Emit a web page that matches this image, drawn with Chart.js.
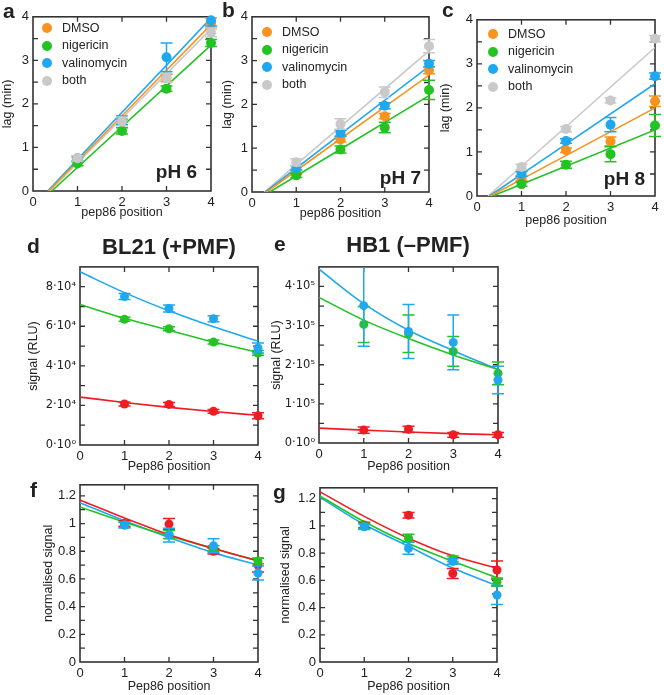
<!DOCTYPE html>
<html>
<head>
<meta charset="utf-8">
<script src="https://cdn.jsdelivr.net/npm/chart.js@4.4.1/dist/chart.umd.min.js"></script>
<style>
  body { margin: 0; background: #fff; }
  #fig { position: relative; width: 664px; height: 695px; overflow: hidden;
         font-family: 'Liberation Sans', Arial, sans-serif; color: #222; }
  #fig canvas { position: absolute; }
  .txt { position: absolute; white-space: nowrap; line-height: 1; }
  .dot { position: absolute; border-radius: 50%; }
</style>
</head>
<body>
<div id="fig"></div>
<script>
const FONT = "'Liberation Sans', Arial, sans-serif";
const SUP_FONT = "'DejaVu Sans', sans-serif";   // has every superscript digit
const INK = '#222';
const AXIS = '#333';

// x positions (pep86 position) and axis ticks
const positions = [1, 2, 3, 4];
const fitPositions = [0, 1, 2, 3, 4];
const xTickValues = [0, 1, 2, 3, 4];
const xTickLabels = ['0', '1', '2', '3', '4'];

const treatments = ['DMSO', 'nigericin', 'valinomycin', 'both'];
const treatmentColours = ['#f7931e', '#22c322', '#1fa7ef', '#c9c9c9'];
const strainColours = ['#ee1c24', '#22c322', '#1fa7ef'];

// panel a, pH 6 : lag (min)
const ph6Dmso = [0.72, 1.58, 2.6, 3.85];
const ph6Nig = [0.63, 1.38, 2.35, 3.4];
const ph6Val = [0.75, 1.62, 3.07, 3.92];
const ph6Both = [0.75, 1.6, 2.6, 3.64];
const ph6DmsoErr = [0.05, 0.07, 0.08, 0.12];
const ph6NigErr = [0.05, 0.07, 0.06, 0.08];
const ph6ValErr = [0.05, 0.1, 0.33, 0.13];
const ph6BothErr = [0.06, 0.1, 0.1, 0.1];
const ph6FitStart = [0.35, 0.42, 0.33, 0.37];  // x where fit crosses 0
const ph6FitEnd = [3.82, 3.35, 3.97, 3.72];    // fit value at position 4

// panel b, pH 7
const ph7Dmso = [0.45, 1.2, 1.73, 2.78];
const ph7Nig = [0.38, 0.97, 1.47, 2.33];
const ph7Val = [0.55, 1.35, 1.97, 2.93];
const ph7Both = [0.68, 1.55, 2.28, 3.33];
const ph7DmsoErr = [0.05, 0.06, 0.06, 0.08];
const ph7NigErr = [0.05, 0.08, 0.12, 0.22];
const ph7ValErr = [0.05, 0.07, 0.07, 0.07];
const ph7BothErr = [0.08, 0.12, 0.12, 0.15];
const ph7FitStart = [0.33, 0.4, 0.3, 0.28];
const ph7FitEnd = [2.67, 2.2, 2.87, 3.22];

// panel c, pH 8
const ph8Dmso = [0.4, 1.04, 1.24, 2.15];
const ph8Nig = [0.27, 0.71, 0.95, 1.6];
const ph8Val = [0.5, 1.25, 1.62, 2.72];
const ph8Both = [0.66, 1.52, 2.17, 3.57];
const ph8DmsoErr = [0.05, 0.05, 0.1, 0.12];
const ph8NigErr = [0.05, 0.08, 0.17, 0.25];
const ph8ValErr = [0.05, 0.05, 0.16, 0.07];
const ph8BothErr = [0.06, 0.06, 0.06, 0.07];
const ph8FitStart = [0.3, 0.35, 0.28, 0.25];
const ph8FitEnd = [2.0, 1.5, 2.55, 3.37];

const lagTickValues = [0, 1, 2, 3, 4];
const lagTickLabels = ['0', '1', '2', '3', '4'];

// panel d, BL21 (+PMF) : signal (RLU)
const bl21Red = [20700, 20500, 17000, 14800];
const bl21Green = [63500, 58700, 52000, 46500];
const bl21Blue = [75000, 69000, 63800, 49000];
const bl21RedErr = [1000, 1000, 1000, 1500];
const bl21GreenErr = [1000, 1000, 1000, 1200];
const bl21BlueErr = [1500, 1800, 1500, 2500];
const bl21RedFit = [24200, 21500, 19000, 16900, 15000];
const bl21GreenFit = [71000, 64000, 58000, 52000, 46800];
const bl21BlueFit = [87500, 77000, 67800, 59700, 52500];
const bl21TickValues = [0, 20000, 40000, 60000, 80000];
const bl21TickLabels = ['0·10⁰', '2·10⁴', '4·10⁴', '6·10⁴', '8·10⁴'];

// panel e, HB1 (-PMF)
const hb1Red = [33000, 35000, 21000, 21000];
const hb1Green = [303000, 279000, 234000, 178000];
const hb1Blue = [351000, 285000, 257000, 161000];
const hb1RedErr = [8000, 8000, 6000, 6000];
const hb1GreenErr = [46000, 48000, 38000, 29000];
const hb1BlueErr = [104000, 69000, 70000, 35000];
const hb1RedFit = [38000, 33000, 28000, 24000, 21000];
const hb1GreenFit = [372000, 314000, 267000, 225000, 188000];
const hb1BlueFit = [444000, 356000, 288000, 236000, 188000];
const hb1TickValues = [0, 100000, 200000, 300000, 400000];
const hb1TickLabels = ['0·10⁰', '1·10⁵', '2·10⁵', '3·10⁵', '4·10⁵'];

// panel f, normalised BL21
const nBl21Red = [1.0, 0.996, 0.8, 0.7];
const nBl21Green = [0.99, 0.92, 0.82, 0.73];
const nBl21Blue = [0.99, 0.917, 0.84, 0.643];
const nBl21RedErr = [0.02, 0.04, 0.02, 0.05];
const nBl21GreenErr = [0.02, 0.03, 0.02, 0.02];
const nBl21BlueErr = [0.02, 0.05, 0.05, 0.05];
const nBl21RedFit = [1.17, 1.04, 0.92, 0.82, 0.73];
const nBl21GreenFit = [1.12, 1.01, 0.91, 0.82, 0.73];
const nBl21BlueFit = [1.15, 1.02, 0.9, 0.79, 0.7];

// panel g, normalised HB1
const nHb1Red = [1.006, 1.079, 0.65, 0.676];
const nHb1Green = [1.0, 0.909, 0.759, 0.587];
const nHb1Blue = [0.994, 0.836, 0.739, 0.492];
const nHb1RedErr = [0.02, 0.02, 0.037, 0.067];
const nHb1GreenErr = [0.02, 0.03, 0.02, 0.03];
const nHb1BlueErr = [0.02, 0.045, 0.02, 0.07];
const nHb1RedFit = [1.25, 1.07, 0.91, 0.78, 0.69];
const nHb1GreenFit = [1.22, 1.03, 0.87, 0.74, 0.62];
const nHb1BlueFit = [1.21, 1.01, 0.85, 0.69, 0.56];

const normTickValues = [0, 0.2, 0.4, 0.6, 0.8, 1, 1.2];
const normTickLabels = ['0', '0.2', '0.4', '0.6', '0.8', '1', '1.2'];

const fig = document.getElementById('fig');

// box round the plot + inward ticks on all four sides
const frame = {
  id: 'frame',
  beforeDatasetsDraw(chart, args, opts) {
    const { ctx, chartArea: a, scales: { x, y } } = chart;
    const len = 5;
    ctx.save();
    ctx.strokeStyle = AXIS;
    ctx.lineWidth = 1.3;
    ctx.beginPath();
    x.ticks.forEach(t => {
      if (t.value <= x.min || t.value >= x.max) return;
      const px = x.getPixelForValue(t.value);
      ctx.moveTo(px, a.bottom); ctx.lineTo(px, a.bottom - len);
      ctx.moveTo(px, a.top); ctx.lineTo(px, a.top + len);
    });
    const n = Math.round((y.max - y.min) / opts.yMinor);
    for (let k = 1; k < n; k++) {
      const py = y.getPixelForValue(y.min + k * opts.yMinor);
      if (py < a.top + 1) continue;
      ctx.moveTo(a.left, py); ctx.lineTo(a.left + len, py);
      ctx.moveTo(a.right, py); ctx.lineTo(a.right - len, py);
    }
    ctx.stroke();
    ctx.lineWidth = 1.6;
    ctx.strokeRect(a.left, a.top, a.right - a.left, a.bottom - a.top);
    ctx.restore();
  }
};

// vertical error bars, drawn just before each point set
const errorBars = {
  id: 'errorBars',
  beforeDatasetDraw(chart, args) {
    const ds = chart.data.datasets[args.index];
    if (!ds.errors) return;
    const { ctx, chartArea: a, scales: { x, y } } = chart;
    ctx.save();
    ctx.strokeStyle = ds.borderColor;
    ctx.lineWidth = 1.5;
    ds.data.forEach((p, i) => {
      const e = ds.errors[i];
      const px = x.getPixelForValue(p.x);
      let top = y.getPixelForValue(p.y + e);
      const bot = y.getPixelForValue(p.y - e);
      const cut = top < a.top;
      if (cut) top = a.top;
      ctx.beginPath();
      ctx.moveTo(px, top); ctx.lineTo(px, bot);
      if (!cut) { ctx.moveTo(px - 6, top); ctx.lineTo(px + 6, top); }
      ctx.moveTo(px - 6, bot); ctx.lineTo(px + 6, bot);
      ctx.stroke();
    });
    ctx.restore();
  }
};

function pointSet(label, values, errors, colour, order, r) {
  return {
    label, errors, order,
    data: values.map((v, i) => ({ x: positions[i], y: v })),
    backgroundColor: colour, borderColor: colour,
    pointRadius: r, pointHoverRadius: r, pointBorderWidth: 0,
    showLine: false, clip: false
  };
}

function fitSet(points, colour) {
  return {
    data: points, borderColor: colour, borderWidth: 1.6,
    pointRadius: 0, showLine: true, fill: false,
    cubicInterpolationMode: 'monotone', order: 20
  };
}

function curve(values) {
  return values.map((v, i) => ({ x: fitPositions[i], y: v }));
}

function straight(start, end) {
  return [{ x: start, y: 0 }, { x: positions[positions.length - 1], y: end }];
}

function lagSets(vals, errs, starts, ends) {
  const sets = [];
  treatments.forEach((name, i) => {
    sets.push(fitSet(straight(starts[i], ends[i]), treatmentColours[i]));
    sets.push(pointSet(name, vals[i], errs[i], treatmentColours[i], 4 - i, 5));
  });
  return sets;
}

function strainSets(vals, errs, fits) {
  const sets = [];
  ['red', 'green', 'blue'].forEach((name, i) => {
    sets.push(fitSet(curve(fits[i]), strainColours[i]));
    sets.push(pointSet(name, vals[i], errs[i], strainColours[i], 3 - i, 4.5));
  });
  return sets;
}

function panel(p) {
  const c = document.createElement('canvas');
  c.width = p.w; c.height = p.h;
  c.style.left = p.left + 'px'; c.style.top = p.top + 'px';
  fig.appendChild(c);
  const tickFont = { family: FONT, size: 13 };
  const yTickFont = p.yTickFont || tickFont;
  const titleFont = { family: FONT, size: 12.5 };
  new Chart(c, {
    type: 'scatter',
    data: { datasets: p.datasets },
    options: {
      responsive: false, animation: false, devicePixelRatio: 1, events: [],
      layout: { padding: { top: 10, right: p.padRight, left: 0, bottom: 0 } },
      plugins: { legend: { display: false }, tooltip: { enabled: false }, frame: { yMinor: p.yMinor } },
      scales: {
        x: {
          type: 'linear', min: 0, max: 4,
          grid: { display: false, drawTicks: false }, border: { display: false },
          afterBuildTicks: s => { s.ticks = xTickValues.map(v => ({ value: v })); },
          afterFit: s => { s.height = p.xh; },
          ticks: { autoSkip: false, maxRotation: 0, padding: 4, color: INK, font: tickFont,
                   callback: (v, i) => xTickLabels[i] },
          title: { display: true, text: p.xTitle, color: INK, font: titleFont, padding: 0 }
        },
        y: {
          type: 'linear', min: p.yMin, max: p.yMax,
          grid: { display: false, drawTicks: false }, border: { display: false },
          afterBuildTicks: s => { s.ticks = p.yTicks.map(v => ({ value: v })); },
          afterFit: s => { s.width = p.yw; },
          ticks: { autoSkip: false, padding: 4, color: INK, font: yTickFont,
                   callback: (v, i) => p.yLabels[i] },
          title: { display: true, text: p.yTitle, color: INK, font: titleFont, padding: 0 }
        }
      }
    },
    plugins: [frame, errorBars]
  });
}

function text(str, x, baseline, size, weight, align) {
  const d = document.createElement('div');
  d.className = 'txt';
  d.textContent = str;
  d.style.fontSize = size + 'px';
  d.style.fontWeight = weight;
  d.style.top = (baseline - 0.8465 * size) + 'px';
  if (align === 'right') d.style.right = (664 - x) + 'px';
  else if (align === 'center') { d.style.left = x + 'px'; d.style.transform = 'translateX(-50%)'; }
  else d.style.left = x + 'px';
  fig.appendChild(d);
}

function legend(cx, cy) {
  treatments.forEach((name, i) => {
    const y = cy + i * 17.5;
    const d = document.createElement('div');
    d.className = 'dot';
    d.style.left = (cx - 5) + 'px'; d.style.top = (y - 5) + 'px';
    d.style.width = '10px'; d.style.height = '10px';
    d.style.background = treatmentColours[i];
    fig.appendChild(d);
    text(name, cx + 15, y + 4.5, 12.5, 'normal', 'left');
  });
}

// a, b, c
panel({ left: 0, top: 5, w: 221, h: 215, yw: 33, xh: 29, padRight: 10,
  yMin: 0, yMax: 4, yTicks: lagTickValues, yLabels: lagTickLabels, yMinor: 0.5,
  xTitle: 'pep86 position', yTitle: 'lag (min)',
  datasets: lagSets([ph6Dmso, ph6Nig, ph6Val, ph6Both],
    [ph6DmsoErr, ph6NigErr, ph6ValErr, ph6BothErr], ph6FitStart, ph6FitEnd) });

panel({ left: 220, top: 5, w: 219, h: 216, yw: 32, xh: 29, padRight: 10,
  yMin: 0, yMax: 4, yTicks: lagTickValues, yLabels: lagTickLabels, yMinor: 0.5,
  xTitle: 'pep86 position', yTitle: 'lag (min)',
  datasets: lagSets([ph7Dmso, ph7Nig, ph7Val, ph7Both],
    [ph7DmsoErr, ph7NigErr, ph7ValErr, ph7BothErr], ph7FitStart, ph7FitEnd) });

panel({ left: 438, top: 8, w: 225, h: 220, yw: 39, xh: 32, padRight: 8,
  yMin: 0, yMax: 4, yTicks: lagTickValues, yLabels: lagTickLabels, yMinor: 0.5,
  xTitle: 'pep86 position', yTitle: 'lag (min)',
  datasets: lagSets([ph8Dmso, ph8Nig, ph8Val, ph8Both],
    [ph8DmsoErr, ph8NigErr, ph8ValErr, ph8BothErr], ph8FitStart, ph8FitEnd) });

// d, e
panel({ left: 26, top: 256, w: 242, h: 218, yw: 54, xh: 29, padRight: 10,
  yMin: 0, yMax: 90000, yTicks: bl21TickValues, yLabels: bl21TickLabels, yMinor: 10000,
  yTickFont: { family: SUP_FONT, size: 11.5 },
  xTitle: 'Pep86 position', yTitle: 'signal (RLU)',
  datasets: strainSets([bl21Red, bl21Green, bl21Blue],
    [bl21RedErr, bl21GreenErr, bl21BlueErr], [bl21RedFit, bl21GreenFit, bl21BlueFit]) });

panel({ left: 269, top: 256, w: 239, h: 218, yw: 50, xh: 31, padRight: 10,
  yMin: 0, yMax: 450000, yTicks: hb1TickValues, yLabels: hb1TickLabels, yMinor: 50000,
  yTickFont: { family: SUP_FONT, size: 11.5 },
  xTitle: 'Pep86 position', yTitle: 'signal (RLU)',
  datasets: strainSets([hb1Red, hb1Green, hb1Blue],
    [hb1RedErr, hb1GreenErr, hb1BlueErr], [hb1RedFit, hb1GreenFit, hb1BlueFit]) });

// f, g
panel({ left: 41, top: 473, w: 227, h: 221, yw: 39, xh: 32, padRight: 10,
  yMin: 0, yMax: 1.28, yTicks: normTickValues, yLabels: normTickLabels, yMinor: 0.1,
  xTitle: 'Pep86 position', yTitle: 'normalised signal',
  datasets: strainSets([nBl21Red, nBl21Green, nBl21Blue],
    [nBl21RedErr, nBl21GreenErr, nBl21BlueErr], [nBl21RedFit, nBl21GreenFit, nBl21BlueFit]) });

panel({ left: 278, top: 476, w: 229, h: 218, yw: 42, xh: 32, padRight: 10,
  yMin: 0, yMax: 1.28, yTicks: normTickValues, yLabels: normTickLabels, yMinor: 0.1,
  xTitle: 'Pep86 position', yTitle: 'normalised signal',
  datasets: strainSets([nHb1Red, nHb1Green, nHb1Blue],
    [nHb1RedErr, nHb1GreenErr, nHb1BlueErr], [nHb1RedFit, nHb1GreenFit, nHb1BlueFit]) });

// legends
legend(47, 28);
legend(267, 32);
legend(493, 34);

// in-plot labels
text('pH 6', 197, 178, 19, 'bold', 'right');
text('pH 7', 421, 184, 19, 'bold', 'right');
text('pH 8', 645, 185, 19, 'bold', 'right');

// panel letters and titles
text('a', 3, 18, 21, 'bold', 'left');
text('b', 222, 17, 21, 'bold', 'left');
text('c', 442, 17, 21, 'bold', 'left');
text('d', 27, 253, 21, 'bold', 'left');
text('e', 274, 251, 21, 'bold', 'left');
text('f', 30, 497, 21, 'bold', 'left');
text('g', 273, 499, 21, 'bold', 'left');
text('BL21 (+PMF)', 169, 255, 22, 'bold', 'center');
text('HB1 (–PMF)', 408, 253, 22, 'bold', 'center');
</script>
</body>
</html>
